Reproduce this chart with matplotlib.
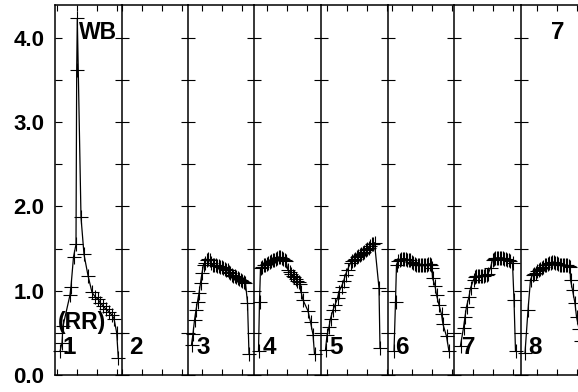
import matplotlib
matplotlib.use("Agg")
import matplotlib.pyplot as plt

plt.rcParams["font.family"] = ["Liberation Sans", "DejaVu Sans"]

# x in minutes from the start of each panel, y values
p1_x = [5, 7, 8, 15, 16, 18.5, 21, 21.7, 22.3, 26, 29, 33, 37, 40, 43, 45,
        48, 51, 54, 57, 59, 61.7, 63.3]
p1_y = [0.28, 0.38, 0.58, 0.95, 1.05, 1.40, 1.55, 3.62, 4.23, 1.87, 1.43,
        1.18, 0.98, 0.93, 0.90, 0.86, 0.82, 0.78, 0.75, 0.71, 0.67, 0.50, 0.20]

p2_x = []
p2_y = []

p3_x = [3.5, 5, 6.5, 8, 9.5, 11, 12.5, 14, 15.5, 17, 18.5, 20, 21.5, 23,
        24.5, 26, 27.5, 29, 30.5, 32, 33.5, 35, 36.5, 38, 39.5, 41, 42.5, 44,
        45.5, 47, 48.5, 50, 51.5, 53, 54.5, 56, 57.5, 59.5, 61]
p3_y = [0.36, 0.49, 0.65, 0.77, 0.87, 0.97, 1.09, 1.21, 1.31, 1.33, 1.37,
        1.38, 1.36, 1.33, 1.31, 1.30, 1.30, 1.29, 1.29, 1.28, 1.28, 1.27,
        1.26, 1.25, 1.24, 1.22, 1.21, 1.19, 1.18, 1.17, 1.16, 1.15, 1.14,
        1.13, 1.11, 1.10, 1.09, 0.86, 0.25]

p4_x = [4, 5, 6, 7.5, 9, 10.5, 12, 13.5, 15, 16.5, 18, 19.5, 21, 22.5, 24,
        25.5, 27, 28.5, 30, 31.5, 33.5, 35, 36.5, 38, 39.5, 41, 42.5, 44,
        45.5, 46.5, 48.5, 53.5, 56, 58.5, 60]
p4_y = [0.28, 0.87, 1.27, 1.28, 1.30, 1.31, 1.32, 1.33, 1.34, 1.35, 1.36,
        1.37, 1.38, 1.39, 1.40, 1.40, 1.39, 1.38, 1.37, 1.35, 1.24, 1.22,
        1.20, 1.18, 1.16, 1.14, 1.12, 1.10, 1.08, 0.99, 0.89, 0.76, 0.63,
        0.48, 0.25]

p5_x = [4.5, 6, 8, 9.5, 12, 14, 16.5, 18, 20.5, 22.5, 24.5, 26.5, 29.5, 31,
        32.5, 34, 35.5, 37, 38.5, 40, 41.5, 43, 44.5, 46, 47.5, 49, 50.5, 52,
        53.5, 58, 59]
p5_y = [0.30, 0.47, 0.57, 0.67, 0.77, 0.83, 0.91, 0.99, 1.05, 1.11, 1.19,
        1.25, 1.33, 1.35, 1.37, 1.38, 1.40, 1.41, 1.42, 1.43, 1.45, 1.46,
        1.48, 1.50, 1.51, 1.53, 1.55, 1.56, 1.57, 1.03, 0.32]

p6_x = [6.5, 8, 9, 10.5, 12, 13.5, 15, 16.5, 18, 19.5, 21, 22.5, 24, 25.5,
        27, 28.5, 30, 31.5, 33, 34.5, 36, 37.5, 39, 40.5, 42, 43.5, 44.5, 45,
        47.5, 49, 51.5, 54, 55.5, 59, 61.5]
p6_y = [0.28, 0.87, 1.31, 1.35, 1.37, 1.38, 1.38, 1.38, 1.38, 1.37, 1.37,
        1.36, 1.34, 1.33, 1.32, 1.31, 1.31, 1.30, 1.30, 1.30, 1.31, 1.31,
        1.31, 1.32, 1.32, 1.30, 1.27, 1.15, 1.06, 0.95, 0.83, 0.72, 0.60,
        0.46, 0.28]

p7_x = [6.5, 9.5, 11, 12.5, 15, 16.5, 19.5, 20.5, 22, 23.5, 25, 26.5, 28,
        29.5, 31, 32.5, 34, 36.5, 38.5, 39.5, 41, 42.5, 44, 45.5, 47, 48.5,
        50, 51.5, 53, 54.5, 56, 58.5, 60, 61.5]
p7_y = [0.35, 0.56, 0.69, 0.81, 0.93, 1.03, 1.13, 1.16, 1.17, 1.17, 1.18,
        1.18, 1.18, 1.18, 1.19, 1.19, 1.20, 1.27, 1.37, 1.38, 1.39, 1.39,
        1.39, 1.39, 1.39, 1.39, 1.38, 1.38, 1.37, 1.36, 1.35, 1.33, 0.89,
        0.28]

p8_x = [4.5, 7.5, 10, 12, 13.5, 15, 16.5, 18, 19.5, 21, 22.5, 24, 25.5, 27,
        28.5, 30, 31.5, 33, 34.5, 36, 37.5, 39, 40.5, 42, 43.5, 45, 46.5, 48,
        49.5, 50, 52, 54.5, 56, 58.5, 60.5]
p8_y = [0.26, 0.77, 1.13, 1.19, 1.20, 1.21, 1.23, 1.24, 1.26, 1.27, 1.28,
        1.30, 1.31, 1.32, 1.33, 1.33, 1.34, 1.34, 1.33, 1.33, 1.32, 1.31,
        1.31, 1.30, 1.30, 1.30, 1.30, 1.29, 1.28, 1.13, 1.01, 0.85, 0.69,
        0.55, 0.40]

panels_x = [p1_x, p2_x, p3_x, p4_x, p5_x, p6_x, p7_x, p8_x]
panels_y = [p1_y, p2_y, p3_y, p4_y, p5_y, p6_y, p7_y, p8_y]
panel_labels = ["1", "2", "3", "4", "5", "6", "7", "8"]
first_tick = [2.3, 0, 14, 12, 5.6, 4.6, 19.4, 16.6]

y_ticks = [0.0, 0.5, 1.0, 1.5, 2.0, 2.5, 3.0, 3.5, 4.0]
y_tick_labels = ["0.0", "", "1.0", "", "2.0", "", "3.0", "", "4.0"]

W, H = 578, 392
panel_w = 66.5
fig = plt.figure(figsize=(W / 100, H / 100), dpi=100)

for i in range(8):
    left = 55 + i * panel_w
    ax = fig.add_axes([left / W, 17 / H, panel_w / W, 370 / H])
    ax.set_facecolor("none")
    ax.plot(panels_x[i], panels_y[i], color="black", lw=0.9,
            marker="+", ms=9.5, mew=0.8, clip_on=False)
    ax.set_xlim(0, panel_w)
    ax.set_ylim(0, 4.39)

    ax.set_xticks([first_tick[i] + 20 * k for k in range(4)
                   if first_tick[i] + 20 * k < panel_w])
    ax.tick_params(axis="x", direction="in", top=True, bottom=True,
                   length=4.5, width=0.8, labelbottom=False)

    ax.set_yticks(y_ticks)
    if i == 0:
        ax.set_yticklabels(y_tick_labels, fontsize=16, fontweight="bold")
        ax.tick_params(axis="y", direction="in", length=4.8, width=0.8,
                       pad=7.5)
    else:
        ax.set_yticklabels([])
        ax.tick_params(axis="y", direction="inout", length=9.6, width=0.8)

    ax.spines["right"].set_visible(False)
    for side in ["left", "top", "bottom"]:
        ax.spines[side].set_linewidth(1.1)

    ax.text(8, 0.25, panel_labels[i], fontsize=17.5, fontweight="bold",
            va="baseline", ha="left")

    if i == 0:
        ax.text(23.5, 3.99, "WB", fontsize=16.5, fontweight="bold",
                va="baseline", ha="left")
        ax.text(2.8, 0.55, "(RR)", fontsize=16.5, fontweight="bold",
                va="baseline", ha="left")
    if i == 7:
        ax.text(31, 3.99, "7", fontsize=17.5, fontweight="bold",
                va="baseline", ha="left")

fig.savefig("out.png", dpi=100)
